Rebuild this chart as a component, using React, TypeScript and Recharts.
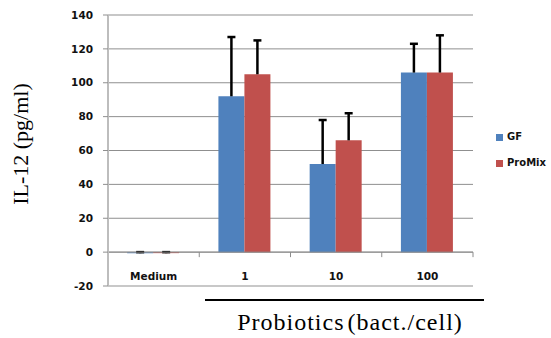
import React from "react";
import {
  BarChart,
  Bar,
  XAxis,
  YAxis,
  CartesianGrid,
  ReferenceLine,
  Rectangle,
} from "recharts";

// IL-12 concentrations per stimulation condition
const categories = ["Medium", "1", "10", "100"];
const gfValues = [-0.6, 92, 52, 106];
const gfErrors = [0.6, 35, 26, 17];
const proMixValues = [-0.6, 105, 66, 106];
const proMixErrors = [0.6, 20, 16, 22];
const yTicks = [-20, 0, 20, 40, 60, 80, 100, 120, 140];

const BLUE = "#4F81BD";
const RED = "#C0504D";

const WIDTH = 551;
const HEIGHT = 338;
const MARGIN = { top: 15, right: 78, bottom: 22, left: 48 };
const Y_AXIS_W = 60;
const X_AXIS_H = 30;
const PLOT_W = WIDTH - MARGIN.left - MARGIN.right - Y_AXIS_W;
const PLOT_H = HEIGHT - MARGIN.top - MARGIN.bottom - X_AXIS_H;
const BAND = PLOT_W / categories.length;
// distance from the bottom of the plot up to the zero line
const ZERO_OFFSET = (PLOT_H * (0 - yTicks[0])) / (yTicks[yTicks.length - 1] - yTicks[0]);

const data = categories.map((name, i) => ({
  name,
  gf: gfValues[i],
  gfErr: gfErrors[i],
  proMix: proMixValues[i],
  proMixErr: proMixErrors[i],
}));

const tickFont = "'DejaVu Sans', Verdana, sans-serif";
const titleFont = "'Liberation Serif', 'Times New Roman', serif";

// bar plus an upward-only error whisker (single cap on top)
const barWithError = (valueKey: string, errKey: string) => (props: any) => {
  const { x, y, width, height, fill, payload } = props;
  const v = payload[valueKey];
  const err = payload[errKey];
  const top = Math.min(y, y + height);
  const bottom = Math.max(y, y + height);
  const pxPerUnit = v !== 0 ? (bottom - top) / Math.abs(v) : 0;
  const yValue = v >= 0 ? top : bottom;
  const yErr = yValue - err * pxPerUnit;
  const cx = x + width / 2;
  return (
    <g>
      <Rectangle x={x} y={top} width={width} height={Math.max(bottom - top, 1)} fill={fill} />
      <line x1={cx} x2={cx} y1={yValue} y2={yErr} stroke="#000" strokeWidth={2.5} />
      <line x1={cx - 4} x2={cx + 4} y1={yErr} y2={yErr} stroke="#000" strokeWidth={2.5} />
    </g>
  );
};

const CategoryTick = (props: any) => {
  const { x, y, payload } = props;
  const zeroY = y - ZERO_OFFSET;
  return (
    <g>
      <line
        x1={x + BAND / 2}
        x2={x + BAND / 2}
        y1={zeroY}
        y2={zeroY + 5}
        stroke="#8c8c8c"
      />
      <text
        x={x}
        y={y - 10}
        textAnchor="middle"
        dominantBaseline="central"
        fontFamily={tickFont}
        fontWeight="bold"
        fontSize={10.5}
        fill="#111"
      >
        {payload.value}
      </text>
    </g>
  );
};

const LegendItem = ({ color, label, top }: { color: string; label: string; top: number }) => (
  <div
    style={{
      position: "absolute",
      left: 496,
      top,
      display: "flex",
      alignItems: "center",
      fontFamily: tickFont,
      fontWeight: "bold",
      fontSize: 10,
      color: "#111",
      lineHeight: "12px",
    }}
  >
    <span style={{ width: 7, height: 7, background: color, marginRight: 4 }} />
    {label}
  </div>
);

export default function App() {
  return (
    <div style={{ position: "relative", width: WIDTH, height: HEIGHT, background: "#fff" }}>
      <style>{"body{margin:0}"}</style>
      <BarChart
        width={WIDTH}
        height={HEIGHT}
        data={data}
        margin={MARGIN}
        barGap={0}
        barCategoryGap="21%"
      >
        <CartesianGrid vertical={false} stroke="#8f8f8f" />
        <XAxis
          dataKey="name"
          height={X_AXIS_H}
          axisLine={{ stroke: "#c8c8c8", strokeWidth: 2 }}
          tickLine={false}
          tickSize={0}
          tickMargin={0}
          tick={<CategoryTick />}
        />
        <YAxis
          width={Y_AXIS_W}
          domain={[-20, 140]}
          ticks={yTicks}
          interval={0}
          axisLine={{ stroke: "#bdbdbd", strokeWidth: 2 }}
          tickLine={{ stroke: "#8f8f8f" }}
          tickSize={5}
          tickMargin={10}
          tick={{ fontFamily: tickFont, fontWeight: "bold", fontSize: 10.5, fill: "#111" }}
        />
        <ReferenceLine y={0} stroke="#8c8c8c" />
        <Bar
          dataKey="gf"
          fill={BLUE}
          isAnimationActive={false}
          shape={barWithError("gf", "gfErr")}
        />
        <Bar
          dataKey="proMix"
          fill={RED}
          isAnimationActive={false}
          shape={barWithError("proMix", "proMixErr")}
        />
      </BarChart>

      <LegendItem color={BLUE} label="GF" top={131} />
      <LegendItem color={RED} label="ProMix" top={157} />

      {/* vertical axis title */}
      <div
        style={{
          position: "absolute",
          left: 21,
          top: 144,
          transform: "translate(-50%, -50%) rotate(-90deg)",
          whiteSpace: "nowrap",
          fontFamily: titleFont,
          fontSize: 22,
          color: "#000",
        }}
      >
        IL-12 (pg/ml)
      </div>

      {/* bracket under the probiotic doses */}
      <div
        style={{
          position: "absolute",
          left: 205,
          top: 299,
          width: 279,
          height: 2,
          background: "#000",
        }}
      />
      <div
        style={{
          position: "absolute",
          left: 350,
          top: 322,
          transform: "translate(-50%, -50%)",
          whiteSpace: "nowrap",
          fontFamily: titleFont,
          fontSize: 24,
          letterSpacing: 1,
          wordSpacing: -4,
          color: "#000",
        }}
      >
        Probiotics (bact./cell)
      </div>
    </div>
  );
}
